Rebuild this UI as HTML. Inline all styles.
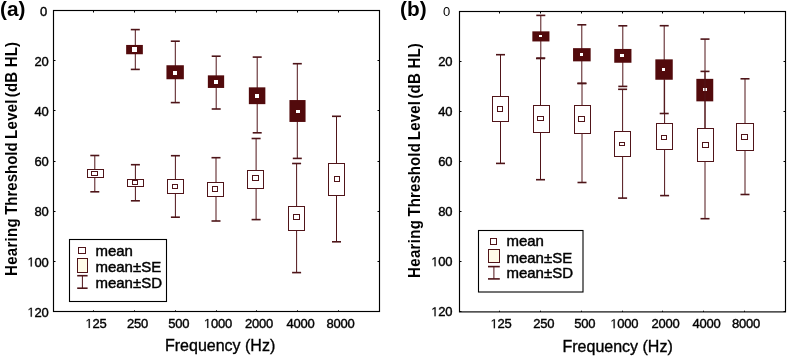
<!DOCTYPE html>
<html><head><meta charset="utf-8"><title>Hearing thresholds</title>
<style>html,body{margin:0;padding:0;background:#fff;}body{width:787px;height:356px;overflow:hidden;font-family:"Liberation Sans",sans-serif;}svg{display:block;will-change:transform;}</style>
</head><body><svg width="787" height="356" viewBox="0 0 787 356"><rect x="53.5" y="10.5" width="326" height="301" fill="none" stroke="#000" stroke-width="1.15"/><line x1="53.5" y1="10.5" x2="55.5" y2="10.5" stroke="#000" stroke-width="1"/><line x1="377.5" y1="10.5" x2="379.5" y2="10.5" stroke="#000" stroke-width="1"/><line x1="53.5" y1="60.5" x2="55.5" y2="60.5" stroke="#000" stroke-width="1"/><line x1="377.5" y1="60.5" x2="379.5" y2="60.5" stroke="#000" stroke-width="1"/><line x1="53.5" y1="110.5" x2="55.5" y2="110.5" stroke="#000" stroke-width="1"/><line x1="377.5" y1="110.5" x2="379.5" y2="110.5" stroke="#000" stroke-width="1"/><line x1="53.5" y1="161.5" x2="55.5" y2="161.5" stroke="#000" stroke-width="1"/><line x1="377.5" y1="161.5" x2="379.5" y2="161.5" stroke="#000" stroke-width="1"/><line x1="53.5" y1="211.5" x2="55.5" y2="211.5" stroke="#000" stroke-width="1"/><line x1="377.5" y1="211.5" x2="379.5" y2="211.5" stroke="#000" stroke-width="1"/><line x1="53.5" y1="261.5" x2="55.5" y2="261.5" stroke="#000" stroke-width="1"/><line x1="377.5" y1="261.5" x2="379.5" y2="261.5" stroke="#000" stroke-width="1"/><line x1="53.5" y1="311.5" x2="55.5" y2="311.5" stroke="#000" stroke-width="1"/><line x1="377.5" y1="311.5" x2="379.5" y2="311.5" stroke="#000" stroke-width="1"/><line x1="93.5" y1="311.5" x2="93.5" y2="310.3" stroke="#000" stroke-width="1"/><line x1="93.5" y1="10.5" x2="93.5" y2="12.5" stroke="#000" stroke-width="1"/><line x1="134.5" y1="311.5" x2="134.5" y2="310.3" stroke="#000" stroke-width="1"/><line x1="134.5" y1="10.5" x2="134.5" y2="12.5" stroke="#000" stroke-width="1"/><line x1="175.5" y1="311.5" x2="175.5" y2="310.3" stroke="#000" stroke-width="1"/><line x1="175.5" y1="10.5" x2="175.5" y2="12.5" stroke="#000" stroke-width="1"/><line x1="216.5" y1="311.5" x2="216.5" y2="310.3" stroke="#000" stroke-width="1"/><line x1="216.5" y1="10.5" x2="216.5" y2="12.5" stroke="#000" stroke-width="1"/><line x1="256.5" y1="311.5" x2="256.5" y2="310.3" stroke="#000" stroke-width="1"/><line x1="256.5" y1="10.5" x2="256.5" y2="12.5" stroke="#000" stroke-width="1"/><line x1="297.5" y1="311.5" x2="297.5" y2="310.3" stroke="#000" stroke-width="1"/><line x1="297.5" y1="10.5" x2="297.5" y2="12.5" stroke="#000" stroke-width="1"/><line x1="338.5" y1="311.5" x2="338.5" y2="310.3" stroke="#000" stroke-width="1"/><line x1="338.5" y1="10.5" x2="338.5" y2="12.5" stroke="#000" stroke-width="1"/><line x1="135.3" y1="29.6" x2="135.3" y2="69.4" stroke="#501419" stroke-width="1.0"/><line x1="130.8" y1="29.6" x2="139.8" y2="29.6" stroke="#4e1418" stroke-width="1.6"/><line x1="130.8" y1="69.4" x2="139.8" y2="69.4" stroke="#4e1418" stroke-width="1.6"/><rect x="126.15" y="44.95" width="16.70" height="9.30" fill="#520a0c"/><rect x="132" y="47" width="5" height="5" fill="#fff"/><line x1="175.3" y1="41.2" x2="175.3" y2="102.6" stroke="#501419" stroke-width="1.0"/><line x1="170.8" y1="41.2" x2="179.8" y2="41.2" stroke="#4e1418" stroke-width="1.6"/><line x1="170.8" y1="102.6" x2="179.8" y2="102.6" stroke="#4e1418" stroke-width="1.6"/><rect x="166.45" y="65.25" width="17.40" height="14.00" fill="#520a0c"/><rect x="173" y="71" width="4" height="4" fill="#fff"/><line x1="216.2" y1="56.2" x2="216.2" y2="109" stroke="#501419" stroke-width="1.0"/><line x1="211.7" y1="56.2" x2="220.7" y2="56.2" stroke="#4e1418" stroke-width="1.6"/><line x1="211.7" y1="109" x2="220.7" y2="109" stroke="#4e1418" stroke-width="1.6"/><rect x="207.85" y="75.35" width="16.30" height="12.60" fill="#520a0c"/><rect x="214" y="80" width="4" height="4" fill="#fff"/><line x1="257.2" y1="57.1" x2="257.2" y2="132.8" stroke="#501419" stroke-width="1.0"/><line x1="252.7" y1="57.1" x2="261.7" y2="57.1" stroke="#4e1418" stroke-width="1.6"/><line x1="252.7" y1="132.8" x2="261.7" y2="132.8" stroke="#4e1418" stroke-width="1.6"/><rect x="248.85" y="87.35" width="16.50" height="16.80" fill="#520a0c"/><rect x="255" y="94" width="4" height="4" fill="#fff"/><line x1="297.3" y1="63.7" x2="297.3" y2="158.4" stroke="#501419" stroke-width="1.0"/><line x1="292.8" y1="63.7" x2="301.8" y2="63.7" stroke="#4e1418" stroke-width="1.6"/><line x1="292.8" y1="158.4" x2="301.8" y2="158.4" stroke="#4e1418" stroke-width="1.6"/><rect x="289.45" y="100.05" width="16.10" height="21.90" fill="#520a0c"/><rect x="296" y="110" width="4" height="3" fill="#fff"/><line x1="94.8" y1="155.5" x2="94.8" y2="191.8" stroke="#501419" stroke-width="1.0"/><line x1="90.3" y1="155.5" x2="99.3" y2="155.5" stroke="#4e1418" stroke-width="1.6"/><line x1="90.3" y1="191.8" x2="99.3" y2="191.8" stroke="#4e1418" stroke-width="1.6"/><rect x="87.5" y="169.5" width="16" height="8" fill="#fff" stroke="#501419" stroke-width="1"/><rect x="91.5" y="171.5" width="6" height="4" fill="#fff" stroke="#501419" stroke-width="1"/><line x1="135.4" y1="164.7" x2="135.4" y2="200.8" stroke="#501419" stroke-width="1.0"/><line x1="130.9" y1="164.7" x2="139.9" y2="164.7" stroke="#4e1418" stroke-width="1.6"/><line x1="130.9" y1="200.8" x2="139.9" y2="200.8" stroke="#4e1418" stroke-width="1.6"/><rect x="127.5" y="179.5" width="16" height="7" fill="#fff" stroke="#501419" stroke-width="1"/><rect x="132.5" y="180.5" width="5" height="4" fill="#fff" stroke="#501419" stroke-width="1"/><line x1="175.4" y1="155.7" x2="175.4" y2="217.2" stroke="#501419" stroke-width="1.0"/><line x1="170.9" y1="155.7" x2="179.9" y2="155.7" stroke="#4e1418" stroke-width="1.6"/><line x1="170.9" y1="217.2" x2="179.9" y2="217.2" stroke="#4e1418" stroke-width="1.6"/><rect x="167.5" y="179.5" width="16" height="14" fill="#fff" stroke="#501419" stroke-width="1"/><rect x="172.5" y="184.5" width="5" height="4" fill="#fff" stroke="#501419" stroke-width="1"/><line x1="216" y1="157.7" x2="216" y2="221" stroke="#501419" stroke-width="1.0"/><line x1="211.5" y1="157.7" x2="220.5" y2="157.7" stroke="#4e1418" stroke-width="1.6"/><line x1="211.5" y1="221" x2="220.5" y2="221" stroke="#4e1418" stroke-width="1.6"/><rect x="207.5" y="182.5" width="16" height="14" fill="#fff" stroke="#501419" stroke-width="1"/><rect x="212.5" y="186.5" width="5" height="5" fill="#fff" stroke="#501419" stroke-width="1"/><line x1="256.1" y1="138.5" x2="256.1" y2="219.6" stroke="#501419" stroke-width="1.0"/><line x1="251.60000000000002" y1="138.5" x2="260.6" y2="138.5" stroke="#4e1418" stroke-width="1.6"/><line x1="251.60000000000002" y1="219.6" x2="260.6" y2="219.6" stroke="#4e1418" stroke-width="1.6"/><rect x="247.5" y="170.5" width="16" height="18" fill="#fff" stroke="#501419" stroke-width="1"/><rect x="252.5" y="175.5" width="6" height="5" fill="#fff" stroke="#501419" stroke-width="1"/><line x1="296.6" y1="163.5" x2="296.6" y2="272.6" stroke="#501419" stroke-width="1.0"/><line x1="292.1" y1="163.5" x2="301.1" y2="163.5" stroke="#4e1418" stroke-width="1.6"/><line x1="292.1" y1="272.6" x2="301.1" y2="272.6" stroke="#4e1418" stroke-width="1.6"/><rect x="288.5" y="206.5" width="16" height="24" fill="#fff" stroke="#501419" stroke-width="1"/><rect x="293.5" y="214.5" width="6" height="5" fill="#fff" stroke="#501419" stroke-width="1"/><line x1="336.5" y1="116.3" x2="336.5" y2="241.8" stroke="#501419" stroke-width="1.0"/><line x1="332.0" y1="116.3" x2="341.0" y2="116.3" stroke="#4e1418" stroke-width="1.6"/><line x1="332.0" y1="241.8" x2="341.0" y2="241.8" stroke="#4e1418" stroke-width="1.6"/><rect x="328.5" y="163.5" width="16" height="32" fill="#fff" stroke="#501419" stroke-width="1"/><rect x="334.5" y="176.5" width="5" height="5" fill="#fff" stroke="#501419" stroke-width="1"/><rect x="69.5" y="239.5" width="97" height="62" fill="#fff" stroke="#000" stroke-width="1.1"/><rect x="78.5" y="247.5" width="7.0" height="6.0" fill="#fff" stroke="#501419" stroke-width="1.0"/><rect x="77.5" y="258.5" width="10.0" height="14.0" fill="#fffbe8" stroke="#501419" stroke-width="1.0"/><line x1="82.4" y1="275.7" x2="82.4" y2="288.2" stroke="#501419" stroke-width="1.0"/><line x1="77.2" y1="275.7" x2="87.60000000000001" y2="275.7" stroke="#4e1418" stroke-width="1.6"/><line x1="77.2" y1="288.2" x2="87.60000000000001" y2="288.2" stroke="#4e1418" stroke-width="1.6"/><rect x="459.5" y="11.5" width="326" height="300.4" fill="none" stroke="#000" stroke-width="1.15"/><line x1="459.5" y1="11.5" x2="461.5" y2="11.5" stroke="#000" stroke-width="1"/><line x1="783.5" y1="11.5" x2="785.5" y2="11.5" stroke="#000" stroke-width="1"/><line x1="459.5" y1="61.5" x2="461.5" y2="61.5" stroke="#000" stroke-width="1"/><line x1="783.5" y1="61.5" x2="785.5" y2="61.5" stroke="#000" stroke-width="1"/><line x1="459.5" y1="111.5" x2="461.5" y2="111.5" stroke="#000" stroke-width="1"/><line x1="783.5" y1="111.5" x2="785.5" y2="111.5" stroke="#000" stroke-width="1"/><line x1="459.5" y1="161.5" x2="461.5" y2="161.5" stroke="#000" stroke-width="1"/><line x1="783.5" y1="161.5" x2="785.5" y2="161.5" stroke="#000" stroke-width="1"/><line x1="459.5" y1="211.5" x2="461.5" y2="211.5" stroke="#000" stroke-width="1"/><line x1="783.5" y1="211.5" x2="785.5" y2="211.5" stroke="#000" stroke-width="1"/><line x1="459.5" y1="261.5" x2="461.5" y2="261.5" stroke="#000" stroke-width="1"/><line x1="783.5" y1="261.5" x2="785.5" y2="261.5" stroke="#000" stroke-width="1"/><line x1="459.5" y1="311.5" x2="461.5" y2="311.5" stroke="#000" stroke-width="1"/><line x1="783.5" y1="311.5" x2="785.5" y2="311.5" stroke="#000" stroke-width="1"/><line x1="499.5" y1="311.9" x2="499.5" y2="310.7" stroke="#000" stroke-width="1"/><line x1="499.5" y1="11.5" x2="499.5" y2="13.5" stroke="#000" stroke-width="1"/><line x1="540.5" y1="311.9" x2="540.5" y2="310.7" stroke="#000" stroke-width="1"/><line x1="540.5" y1="11.5" x2="540.5" y2="13.5" stroke="#000" stroke-width="1"/><line x1="581.5" y1="311.9" x2="581.5" y2="310.7" stroke="#000" stroke-width="1"/><line x1="581.5" y1="11.5" x2="581.5" y2="13.5" stroke="#000" stroke-width="1"/><line x1="622.5" y1="311.9" x2="622.5" y2="310.7" stroke="#000" stroke-width="1"/><line x1="622.5" y1="11.5" x2="622.5" y2="13.5" stroke="#000" stroke-width="1"/><line x1="662.5" y1="311.9" x2="662.5" y2="310.7" stroke="#000" stroke-width="1"/><line x1="662.5" y1="11.5" x2="662.5" y2="13.5" stroke="#000" stroke-width="1"/><line x1="703.5" y1="311.9" x2="703.5" y2="310.7" stroke="#000" stroke-width="1"/><line x1="703.5" y1="11.5" x2="703.5" y2="13.5" stroke="#000" stroke-width="1"/><line x1="744.5" y1="311.9" x2="744.5" y2="310.7" stroke="#000" stroke-width="1"/><line x1="744.5" y1="11.5" x2="744.5" y2="13.5" stroke="#000" stroke-width="1"/><line x1="540.8" y1="15.4" x2="540.8" y2="58.1" stroke="#501419" stroke-width="1.0"/><line x1="536.3" y1="15.4" x2="545.3" y2="15.4" stroke="#4e1418" stroke-width="1.6"/><line x1="536.3" y1="58.1" x2="545.3" y2="58.1" stroke="#4e1418" stroke-width="1.6"/><rect x="532.35" y="31.35" width="17.10" height="10.10" fill="#520a0c"/><rect x="539" y="35" width="3" height="2" fill="#fff"/><line x1="581.8" y1="24.8" x2="581.8" y2="83.4" stroke="#501419" stroke-width="1.0"/><line x1="577.3" y1="24.8" x2="586.3" y2="24.8" stroke="#4e1418" stroke-width="1.6"/><line x1="577.3" y1="83.4" x2="586.3" y2="83.4" stroke="#4e1418" stroke-width="1.6"/><rect x="573.05" y="48.15" width="17.60" height="13.20" fill="#520a0c"/><rect x="580" y="53" width="3" height="3" fill="#fff"/><line x1="622.8" y1="25.8" x2="622.8" y2="86.4" stroke="#501419" stroke-width="1.0"/><line x1="618.3" y1="25.8" x2="627.3" y2="25.8" stroke="#4e1418" stroke-width="1.6"/><line x1="618.3" y1="86.4" x2="627.3" y2="86.4" stroke="#4e1418" stroke-width="1.6"/><rect x="614.25" y="48.95" width="17.20" height="13.80" fill="#520a0c"/><rect x="620" y="54" width="4" height="3" fill="#fff"/><line x1="664.2" y1="25.7" x2="664.2" y2="113.5" stroke="#501419" stroke-width="1.0"/><line x1="659.7" y1="25.7" x2="668.7" y2="25.7" stroke="#4e1418" stroke-width="1.6"/><line x1="659.7" y1="113.5" x2="668.7" y2="113.5" stroke="#4e1418" stroke-width="1.6"/><rect x="655.35" y="59.35" width="17.40" height="20.40" fill="#520a0c"/><rect x="662" y="68" width="3" height="3" fill="#fff"/><line x1="705.0" y1="39.1" x2="705.0" y2="140" stroke="#501419" stroke-width="1.0"/><line x1="700.5" y1="39.1" x2="709.5" y2="39.1" stroke="#4e1418" stroke-width="1.6"/><line x1="700.5" y1="140" x2="709.5" y2="140" stroke="#4e1418" stroke-width="1.6"/><rect x="696.35" y="78.85" width="16.90" height="22.50" fill="#520a0c"/><rect x="703" y="88" width="4" height="3" fill="#fff"/><line x1="500.5" y1="54.7" x2="500.5" y2="163.4" stroke="#501419" stroke-width="1.0"/><line x1="496.0" y1="54.7" x2="505.0" y2="54.7" stroke="#4e1418" stroke-width="1.6"/><line x1="496.0" y1="163.4" x2="505.0" y2="163.4" stroke="#4e1418" stroke-width="1.6"/><rect x="492.5" y="96.5" width="16" height="25" fill="#fff" stroke="#501419" stroke-width="1"/><rect x="497.5" y="106.5" width="5" height="5" fill="#fff" stroke="#501419" stroke-width="1"/><line x1="540.5" y1="58.5" x2="540.5" y2="179.7" stroke="#501419" stroke-width="1.0"/><line x1="536.0" y1="58.5" x2="545.0" y2="58.5" stroke="#4e1418" stroke-width="1.6"/><line x1="536.0" y1="179.7" x2="545.0" y2="179.7" stroke="#4e1418" stroke-width="1.6"/><rect x="533.5" y="105.5" width="16" height="27" fill="#fff" stroke="#501419" stroke-width="1"/><rect x="537.5" y="116.5" width="6" height="4" fill="#fff" stroke="#501419" stroke-width="1"/><line x1="582.0" y1="83.4" x2="582.0" y2="182.5" stroke="#501419" stroke-width="1.0"/><line x1="577.5" y1="83.4" x2="586.5" y2="83.4" stroke="#4e1418" stroke-width="1.6"/><line x1="577.5" y1="182.5" x2="586.5" y2="182.5" stroke="#4e1418" stroke-width="1.6"/><rect x="574.5" y="105.5" width="16" height="28" fill="#fff" stroke="#501419" stroke-width="1"/><rect x="578.5" y="116.5" width="6" height="5" fill="#fff" stroke="#501419" stroke-width="1"/><line x1="622.6" y1="89.3" x2="622.6" y2="198.1" stroke="#501419" stroke-width="1.0"/><line x1="618.1" y1="89.3" x2="627.1" y2="89.3" stroke="#4e1418" stroke-width="1.6"/><line x1="618.1" y1="198.1" x2="627.1" y2="198.1" stroke="#4e1418" stroke-width="1.6"/><rect x="614.5" y="131.5" width="16" height="25" fill="#fff" stroke="#501419" stroke-width="1"/><rect x="619.5" y="142.5" width="5" height="3" fill="#fff" stroke="#501419" stroke-width="1"/><line x1="664.6" y1="80" x2="664.6" y2="195.6" stroke="#501419" stroke-width="1.0"/><line x1="660.1" y1="195.6" x2="669.1" y2="195.6" stroke="#4e1418" stroke-width="1.6"/><rect x="656.5" y="123.5" width="16" height="26" fill="#fff" stroke="#501419" stroke-width="1"/><rect x="661.5" y="135.5" width="5" height="4" fill="#fff" stroke="#501419" stroke-width="1"/><line x1="705.0" y1="71.4" x2="705.0" y2="218.7" stroke="#501419" stroke-width="1.0"/><line x1="700.5" y1="71.4" x2="709.5" y2="71.4" stroke="#4e1418" stroke-width="1.6"/><line x1="700.5" y1="218.7" x2="709.5" y2="218.7" stroke="#4e1418" stroke-width="1.6"/><rect x="697.5" y="128.5" width="16" height="33" fill="#fff" stroke="#501419" stroke-width="1"/><rect x="702.5" y="142.5" width="6" height="5" fill="#fff" stroke="#501419" stroke-width="1"/><line x1="745.0" y1="78.8" x2="745.0" y2="194.5" stroke="#501419" stroke-width="1.0"/><line x1="740.5" y1="78.8" x2="749.5" y2="78.8" stroke="#4e1418" stroke-width="1.6"/><line x1="740.5" y1="194.5" x2="749.5" y2="194.5" stroke="#4e1418" stroke-width="1.6"/><rect x="736.5" y="123.5" width="17" height="27" fill="#fff" stroke="#501419" stroke-width="1"/><rect x="741.5" y="134.5" width="6" height="5" fill="#fff" stroke="#501419" stroke-width="1"/><rect x="478.5" y="230.5" width="104.5" height="61.5" fill="#fff" stroke="#000" stroke-width="1.1"/><rect x="490.5" y="238.5" width="6.0" height="6.0" fill="#fff" stroke="#501419" stroke-width="1.0"/><rect x="488.5" y="249.5" width="11.0" height="13.0" fill="#fffbe8" stroke="#501419" stroke-width="1.0"/><line x1="493.9" y1="266.6" x2="493.9" y2="278.9" stroke="#501419" stroke-width="1.0"/><line x1="488.0" y1="266.6" x2="499.79999999999995" y2="266.6" stroke="#4e1418" stroke-width="1.6"/><line x1="488.0" y1="278.9" x2="499.79999999999995" y2="278.9" stroke="#4e1418" stroke-width="1.6"/><text x="0" y="15.8" font-family="Liberation Sans, sans-serif" font-weight="bold" font-size="20.8">(a)</text><text x="400" y="15.8" font-family="Liberation Sans, sans-serif" font-weight="bold" font-size="20.8">(b)</text><text x="39.90" y="15.70" font-family="Liberation Sans, sans-serif" font-size="13" stroke="#000" stroke-width="0.4">0</text><text x="442.90" y="16.30" font-family="Liberation Sans, sans-serif" font-size="13">0</text><text x="34.40 41.40" y="65.87" font-family="Liberation Sans, sans-serif" font-size="13" stroke="#000" stroke-width="0.4">20</text><text x="438.20 445.20" y="66.30" font-family="Liberation Sans, sans-serif" font-size="13" stroke="#000" stroke-width="0.4">20</text><text x="34.40 41.40" y="116.04" font-family="Liberation Sans, sans-serif" font-size="13" stroke="#000" stroke-width="0.4">40</text><text x="438.20 445.20" y="116.30" font-family="Liberation Sans, sans-serif" font-size="13" stroke="#000" stroke-width="0.4">40</text><text x="34.40 41.40" y="166.21" font-family="Liberation Sans, sans-serif" font-size="13" stroke="#000" stroke-width="0.4">60</text><text x="438.20 445.20" y="166.30" font-family="Liberation Sans, sans-serif" font-size="13" stroke="#000" stroke-width="0.4">60</text><text x="34.40 41.40" y="216.38" font-family="Liberation Sans, sans-serif" font-size="13" stroke="#000" stroke-width="0.4">80</text><text x="438.20 445.20" y="216.30" font-family="Liberation Sans, sans-serif" font-size="13" stroke="#000" stroke-width="0.4">80</text><path transform="translate(27.40,266.55) scale(0.00635,-0.00635)" d="M515,0L515,1237L197,1010L197,1180L530,1409L696,1409L696,0Z" fill="#000" stroke="#000" stroke-width="23.6"/><text x="34.40 41.40" y="266.55" font-family="Liberation Sans, sans-serif" font-size="13" stroke="#000" stroke-width="0.4">00</text><path transform="translate(431.20,266.30) scale(0.00635,-0.00635)" d="M515,0L515,1237L197,1010L197,1180L530,1409L696,1409L696,0Z" fill="#000" stroke="#000" stroke-width="23.6"/><text x="438.20 445.20" y="266.30" font-family="Liberation Sans, sans-serif" font-size="13" stroke="#000" stroke-width="0.4">00</text><path transform="translate(27.40,316.72) scale(0.00635,-0.00635)" d="M515,0L515,1237L197,1010L197,1180L530,1409L696,1409L696,0Z" fill="#000" stroke="#000" stroke-width="23.6"/><text x="34.40 41.40" y="316.72" font-family="Liberation Sans, sans-serif" font-size="13" stroke="#000" stroke-width="0.4">20</text><path transform="translate(431.20,316.30) scale(0.00635,-0.00635)" d="M515,0L515,1237L197,1010L197,1180L530,1409L696,1409L696,0Z" fill="#000" stroke="#000" stroke-width="23.6"/><text x="438.20 445.20" y="316.30" font-family="Liberation Sans, sans-serif" font-size="13" stroke="#000" stroke-width="0.4">20</text><path transform="translate(85.40,327.90) scale(0.00635,-0.00635)" d="M515,0L515,1237L197,1010L197,1180L530,1409L696,1409L696,0Z" fill="#000" stroke="#000" stroke-width="23.6"/><text x="92.40 99.40" y="327.90" font-family="Liberation Sans, sans-serif" font-size="13" stroke="#000" stroke-width="0.4">25</text><path transform="translate(490.50,328.20) scale(0.00635,-0.00635)" d="M515,0L515,1237L197,1010L197,1180L530,1409L696,1409L696,0Z" fill="#000" stroke="#000" stroke-width="23.6"/><text x="497.50 504.50" y="328.20" font-family="Liberation Sans, sans-serif" font-size="13" stroke="#000" stroke-width="0.4">25</text><text x="126.90 133.90 140.90" y="327.90" font-family="Liberation Sans, sans-serif" font-size="13" stroke="#000" stroke-width="0.4">250</text><text x="533.30 540.30 547.30" y="328.20" font-family="Liberation Sans, sans-serif" font-size="13" stroke="#000" stroke-width="0.4">250</text><text x="168.30 175.30 182.30" y="327.90" font-family="Liberation Sans, sans-serif" font-size="13" stroke="#000" stroke-width="0.4">500</text><text x="574.20 581.20 588.20" y="328.20" font-family="Liberation Sans, sans-serif" font-size="13" stroke="#000" stroke-width="0.4">500</text><path transform="translate(203.90,327.90) scale(0.00635,-0.00635)" d="M515,0L515,1237L197,1010L197,1180L530,1409L696,1409L696,0Z" fill="#000" stroke="#000" stroke-width="23.6"/><text x="210.90 217.90 224.90" y="327.90" font-family="Liberation Sans, sans-serif" font-size="13" stroke="#000" stroke-width="0.4">000</text><path transform="translate(610.30,328.20) scale(0.00635,-0.00635)" d="M515,0L515,1237L197,1010L197,1180L530,1409L696,1409L696,0Z" fill="#000" stroke="#000" stroke-width="23.6"/><text x="617.30 624.30 631.30" y="328.20" font-family="Liberation Sans, sans-serif" font-size="13" stroke="#000" stroke-width="0.4">000</text><text x="245.00 252.00 259.00 266.00" y="327.90" font-family="Liberation Sans, sans-serif" font-size="13" stroke="#000" stroke-width="0.4">2000</text><text x="651.40 658.40 665.40 672.40" y="328.20" font-family="Liberation Sans, sans-serif" font-size="13" stroke="#000" stroke-width="0.4">2000</text><text x="286.40 293.40 300.40 307.40" y="327.90" font-family="Liberation Sans, sans-serif" font-size="13" stroke="#000" stroke-width="0.4">4000</text><text x="692.40 699.40 706.40 713.40" y="328.20" font-family="Liberation Sans, sans-serif" font-size="13" stroke="#000" stroke-width="0.4">4000</text><text x="326.40 333.40 340.40 347.40" y="327.90" font-family="Liberation Sans, sans-serif" font-size="13" stroke="#000" stroke-width="0.4">8000</text><text x="731.90 738.90 745.90 752.90" y="328.20" font-family="Liberation Sans, sans-serif" font-size="13" stroke="#000" stroke-width="0.4">8000</text><text x="165" y="351" font-family="Liberation Sans, sans-serif" font-size="16" stroke="#000" stroke-width="0.35">Frequency (Hz)</text><text x="562.5" y="351.5" font-family="Liberation Sans, sans-serif" font-size="16" stroke="#000" stroke-width="0.35">Frequency (Hz)</text><g transform="translate(17.3,0) rotate(-90) scale(1,1.08)" font-family="Liberation Sans, sans-serif" font-weight="bold" font-size="15"><text x="-276.0" y="0" textLength="57.6" lengthAdjust="spacing">Hearing</text><text x="-214.8" y="0">Threshold</text><text x="-138.9" y="0" textLength="39.4" lengthAdjust="spacing">Level</text><text x="-97.3" y="0" textLength="55.4" lengthAdjust="spacing">(dB HL)</text></g><g transform="translate(419.9,0) rotate(-90) scale(1,1.08)" font-family="Liberation Sans, sans-serif" font-weight="bold" font-size="15"><text x="-277.9" y="0" textLength="57.7" lengthAdjust="spacing">Hearing</text><text x="-216.5" y="0" textLength="73.3" lengthAdjust="spacing">Threshold</text><text x="-140.2" y="0" textLength="39.2" lengthAdjust="spacing">Level</text><text x="-98.6" y="0" textLength="55.4" lengthAdjust="spacing">(dB HL)</text></g><text x="95.4" y="255.6" font-family="Liberation Sans, sans-serif" font-size="15" stroke="#000" stroke-width="0.45">mean</text><text x="95.4" y="271.8" font-family="Liberation Sans, sans-serif" font-size="15" stroke="#000" stroke-width="0.45">mean±SE</text><text x="95.4" y="287.8" font-family="Liberation Sans, sans-serif" font-size="15" stroke="#000" stroke-width="0.45">mean±SD</text><text x="506.4" y="245.5" font-family="Liberation Sans, sans-serif" font-size="15" stroke="#000" stroke-width="0.45">mean</text><text x="506.4" y="262.8" font-family="Liberation Sans, sans-serif" font-size="15" stroke="#000" stroke-width="0.45">mean±SE</text><text x="506.4" y="278.2" font-family="Liberation Sans, sans-serif" font-size="15" stroke="#000" stroke-width="0.45">mean±SD</text></svg></body></html>
